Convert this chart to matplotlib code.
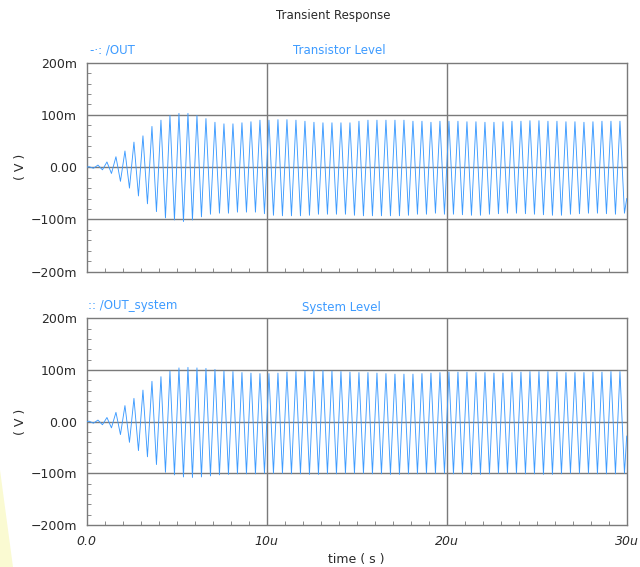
import numpy as np
import matplotlib
matplotlib.use("Agg")
import matplotlib.pyplot as plt
from matplotlib.patches import Polygon

# ---- data (mV), one value per cycle ----
# peaks at 0.125us + k*0.5us, troughs a quarter period later (2 MHz oscillation)
top_peaks = [1, 4, 10, 20, 31, 48, 60, 78, 90, 99,
             103, 103, 99, 93, 86, 83, 83, 85, 87, 90,
             90, 91, 91, 90, 88, 86, 85, 85, 85, 85,
             88, 90, 90, 90, 90, 90, 88, 88, 86, 88,
             88, 88, 87, 87, 86, 86, 87, 88, 88, 89,
             89, 88, 88, 87, 87, 86, 87, 88, 88, 88]
top_troughs = [-2, -5, -12, -27, -40, -55, -70, -85, -97, -101,
               -104, -101, -95, -90, -88, -88, -86, -86, -86, -89,
               -92, -93, -93, -93, -92, -90, -90, -90, -90, -92,
               -93, -93, -93, -93, -93, -92, -90, -90, -88, -90,
               -90, -91, -92, -92, -90, -89, -88, -88, -89, -90,
               -91, -92, -92, -90, -89, -88, -88, -89, -90, -88]
top_end = -60

sys_peaks = [1, 3, 8, 18, 31, 45, 61, 78, 87, 98,
             104, 105, 104, 103, 101, 98, 97, 95, 94, 93,
             93, 94, 96, 97, 98, 99, 99, 98, 97, 96,
             95, 95, 94, 93, 92, 92, 92, 93, 94, 95,
             96, 96, 96, 95, 95, 94, 94, 95, 96, 97,
             97, 97, 96, 95, 95, 95, 96, 96, 97, 97]
sys_troughs = [-3, -6, -12, -25, -40, -56, -68, -83, -98, -103,
               -107, -108, -107, -105, -103, -102, -101, -101, -101, -100,
               -100, -100, -101, -101, -102, -102, -101, -101, -100, -100,
               -100, -101, -101, -102, -102, -101, -101, -100, -100, -100,
               -101, -101, -102, -102, -101, -100, -100, -100, -101, -101,
               -102, -102, -101, -100, -100, -100, -101, -101, -101, -100]
sys_end = -28

period = 0.5      # us
t_end = 30.0      # us

ytick_vals = [-200, -100, 0, 100, 200]
ytick_labels = ["\u2212200m", "\u2212100m", "0.00", "100m", "200m"]
xtick_vals = [0, 10, 20, 30]
xtick_labels = ["0.0", "10u", "20u", "30u"]

BLUE = "#3d9bff"
GRID = "#7a7a7a"
TXT = "#2a2a2a"


def waveform(peaks, troughs, end_val):
    k = np.arange(len(peaks))
    t_p = 0.125 + k * period
    t_t = t_p + period / 2
    t = np.column_stack([t_p, t_t]).ravel()
    v = np.column_stack([peaks, troughs]).ravel()
    t = np.concatenate([[0.0], t, [t_end]])
    v = np.concatenate([[0.0], v, [end_val]])
    return t, v


def style_axes(ax, show_x):
    ax.set_xlim(0, t_end)
    ax.set_ylim(-200, 200)
    for s in ax.spines.values():
        s.set_color(GRID)
        s.set_linewidth(1.0)
    for y in (-100, 0, 100):
        ax.axhline(y, color=GRID, lw=1.0, zorder=1)
    for x in (10, 20):
        ax.axvline(x, color=GRID, lw=1.0, zorder=1)
    ax.set_yticks(ytick_vals)
    ax.set_yticklabels(ytick_labels)
    ax.set_yticks(np.arange(-200, 201, 20), minor=True)
    ax.set_xticks(xtick_vals)
    ax.set_xticks(np.arange(0, 31, 1), minor=True)
    if show_x:
        ax.set_xticklabels(xtick_labels, style="italic")
    else:
        ax.set_xticklabels([])
    ax.tick_params(which="major", length=0, pad=7, labelsize=9, labelcolor=TXT)
    ax.tick_params(which="minor", direction="in", length=3, color=GRID)
    ax.tick_params(which="both", top=False, right=False)
    ax.set_ylabel("( V )", fontsize=9, color=TXT)
    ax.yaxis.set_label_coords((27 - 86.7) / 540, 0.5)


plt.rcParams["font.family"] = ["DejaVu Sans"]

fig = plt.figure(figsize=(6.4, 5.67), dpi=100)

# pale yellow wedge left over from the slide background
fig.patches.append(Polygon([[0, 1 - 470 / 567], [0, 0], [13 / 640, 0]], closed=True,
                           transform=fig.transFigure, facecolor="#fafad2",
                           edgecolor="none", zorder=0))

ax1 = fig.add_axes([86.7 / 640, 1 - 271.7 / 567, 540 / 640, 209 / 567])
ax2 = fig.add_axes([86.7 / 640, 1 - 525 / 567, 540 / 640, 206.7 / 567])

t1, v1 = waveform(top_peaks, top_troughs, top_end)
t2, v2 = waveform(sys_peaks, sys_troughs, sys_end)
ax1.plot(t1, v1, color=BLUE, lw=0.65, zorder=3)
ax2.plot(t2, v2, color=BLUE, lw=0.65, zorder=3)

style_axes(ax1, False)
style_axes(ax2, True)

fig.text(333 / 640, 1 - 15 / 567, "Transient Response", ha="center", va="center",
         fontsize=8.5, color=TXT)
fig.text(90 / 640, 1 - 50 / 567, "-\u00b7: /OUT", ha="left", va="center",
         fontsize=8.5, color=BLUE)
fig.text(339 / 640, 1 - 50 / 567, "Transistor Level", ha="center", va="center",
         fontsize=8.5, color=BLUE)
fig.text(88 / 640, 1 - 306 / 567, ":: /OUT_system", ha="left", va="center",
         fontsize=8.5, color=BLUE)
fig.text(341 / 640, 1 - 307 / 567, "System Level", ha="center", va="center",
         fontsize=8.5, color=BLUE)
ax2.set_xlabel("time ( s )", fontsize=9, color=TXT, labelpad=4)

plt.savefig("out.png", dpi=100)
